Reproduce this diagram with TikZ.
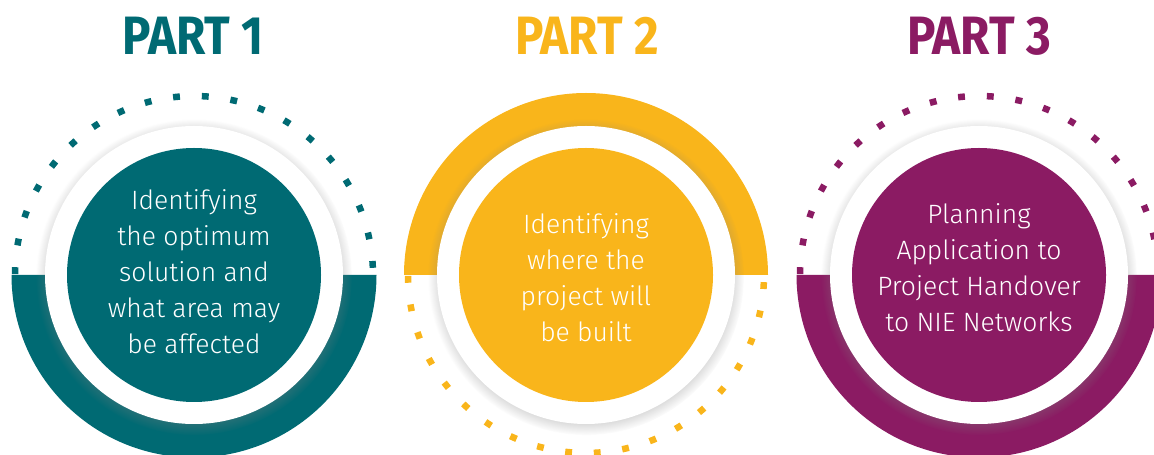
\documentclass[tikz,border=0pt]{standalone}
\usepackage{fontspec}
\setmainfont{Fira Sans}
\newfontfamily\lightfont{Fira Sans Light}
\usetikzlibrary{shadows}
\definecolor{cteal}{HTML}{006A73}
\definecolor{cyel}{HTML}{F9B51B}
\definecolor{cpur}{HTML}{8B1B63}
\begin{document}
\begin{tikzpicture}[x=1pt,y=1pt,
  ring/.style={fill=white, circle, minimum size=298pt, inner sep=0pt,
    circular drop shadow={shadow xshift=0pt, shadow yshift=-2pt, shadow scale=1.06, opacity=0.55}},
  disc/.style={circle, minimum size=254pt, inner sep=0pt},
  body/.style={text=white, align=center, font=\lightfont\fontsize{26.5}{36}\selectfont},
  title/.style={font=\fontsize{54}{54}\selectfont\bfseries, anchor=base, xscale=0.88, transform shape},
  dots/.style={line width=6.5pt}]
\useasboundingbox (0,0) rectangle (1154,455);
\clip (0,0) rectangle (1154,455);

% ---------- Part 1 ----------
\coordinate (o1) at (194,180);
\fill[cteal] (o1) ++(180:182.5) arc[start angle=180, end angle=360, radius=182.5] -- cycle;
\node[ring] (w1) at (o1) {};
\node[disc, fill=cteal] (d1) at (o1) {};
\foreach \i in {0,...,19} {
  \draw[dots, cteal] (o1) ++({2.3+\i*175.2/19}:179) arc[start angle={2.3+\i*175.2/19}, delta angle=2.2, radius=179];
}
\node[body] (t1) at (194,183) {Identifying\\the optimum\\solution and\\what area may\\be affected};
\node[title, text=cteal] (p1) at (193,400) {PART 1};

% ---------- Part 2 ----------
\coordinate (o2) at (586,180);
\fill[cyel] (o2) ++(0:182) arc[start angle=0, end angle=180, radius=182] -- cycle;
\node[ring] (w2) at (o2) {};
\node[disc, fill=cyel] (d2) at (o2) {};
\foreach \i in {0,...,19} {
  \draw[dots, cyel] (o2) ++({-2.3-\i*175.2/19}:178) arc[start angle={-2.3-\i*175.2/19}, delta angle=-2.2, radius=178];
}
\node[body] (t2) at (586,177) {Identifying\\where the\\project will\\be built};
\node[title, text=cyel] (p2) at (587,400) {PART 2};

% ---------- Part 3 ----------
\coordinate (o3) at (979,180);
\fill[cpur] (o3) ++(180:182.5) arc[start angle=180, end angle=360, radius=182.5] -- cycle;
\node[ring] (w3) at (o3) {};
\node[disc, fill=cpur] (d3) at (o3) {};
\foreach \i in {0,...,19} {
  \draw[dots, cpur] (o3) ++({2.3+\i*175.2/19}:179) arc[start angle={2.3+\i*175.2/19}, delta angle=2.2, radius=179];
}
\node[body] (t3) at (979,187) {Planning\\Application to\\Project Handover\\to NIE Networks};
\node[title, text=cpur] (p3) at (979,400) {PART 3};
\end{tikzpicture}
\end{document}
